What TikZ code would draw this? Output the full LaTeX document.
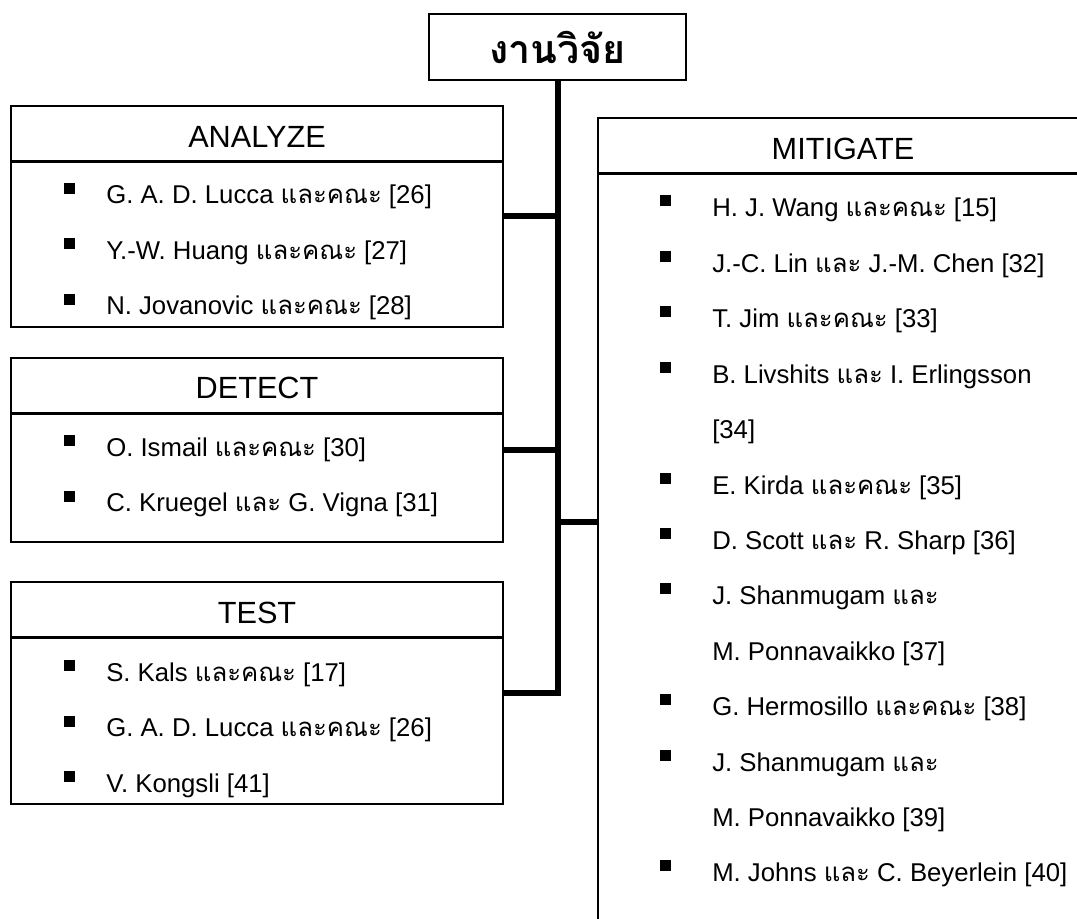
\documentclass[tikz,border=0pt]{standalone}
\usepackage{fontspec}
\setmainfont{Liberation Sans}
\newfontfamily\thaifont[Script=Thai]{Loma}
\usetikzlibrary{positioning}
\newcommand{\thaitxt}[1]{{\thaifont #1}}

\begin{document}
\begin{tikzpicture}[x=0.75pt,y=-0.75pt,
  box/.style={draw=black,line width=1.6pt,inner sep=0pt,outer sep=0pt,minimum width=369pt},
  rule/.style={black,line width=1.6pt},
  head/.style={font=\fontsize{23}{27}\selectfont,inner sep=0pt},
  item/.style={anchor=base west,font=\fontsize{19.3}{23}\selectfont,inner sep=0pt},
  bullet/.style={fill=black,minimum size=8.25pt,inner sep=0pt},
  link/.style={black,line width=4.5pt}]
\useasboundingbox (0,0) rectangle (1077,919);
\clip (0,0) rectangle (1077,919);
% root
\node[draw,line width=1.6pt,minimum width=192.75pt,minimum height=49.5pt,inner sep=0pt,font=\thaifont\bfseries\fontsize{29.5}{33}\selectfont] (title) at (557.5,47) {งานวิจัย};
% boxes
\node[box,minimum height=165.75pt] (ana) at (257,216.5) {};
\node[box,minimum height=138pt] (det) at (257,450) {};
\node[box,minimum height=166.5pt] (tst) at (257,693) {};
\node[box,minimum width=367.5pt,minimum height=631.5pt] (mit) at (843,539) {};
\draw[rule] ([yshift=-41.6pt]ana.north west) -- ([yshift=-41.6pt]ana.north east);
\draw[rule] ([yshift=-41.6pt]det.north west) -- ([yshift=-41.6pt]det.north east);
\draw[rule] ([yshift=-41.6pt]tst.north west) -- ([yshift=-41.6pt]tst.north east);
\draw[rule] ([yshift=-41.6pt]mit.north west) -- ([yshift=-41.6pt]mit.north east);
\node[head] (anahead) at (257,137) {ANALYZE};
\node[head] (dethead) at (257,388) {DETECT};
\node[head] (tsthead) at (257,613) {TEST};
\node[head] (mithead) at (843,149) {MITIGATE};
% connectors
\coordinate (mitin) at (598,522);
\draw[link] (ana.east) -- (ana.east -| title.south);
\draw[link] (det.east) -- (det.east -| title.south);
\draw[link] (title.south) -- (title.south |- tst.east) -- (tst.east);
\draw[link] (title.south |- mitin) -- (mit.west |- mitin);
% ANALYZE
\node[bullet] (anab1) at (69,188.5) {};
\node[item] (ana1) at (106,204) {G. A. D. Lucca \thaitxt{และคณะ} [26]};
\node[bullet] (anab2) at (69,244) {};
\node[item] (ana2) at (106,259.5) {Y.-W. Huang \thaitxt{และคณะ} [27]};
\node[bullet] (anab3) at (69,299.5) {};
\node[item] (ana3) at (106,315) {N. Jovanovic \thaitxt{และคณะ} [28]};
% DETECT
\node[bullet] (detb1) at (69,440.5) {};
\node[item] (det1) at (106,456) {O. Ismail \thaitxt{และคณะ} [30]};
\node[bullet] (detb2) at (69,496) {};
\node[item] (det2) at (106,511.5) {C. Kruegel \thaitxt{และ} G. Vigna [31]};
% TEST
\node[bullet] (tstb1) at (69,665.5) {};
\node[item] (tst1) at (106,681) {S. Kals \thaitxt{และคณะ} [17]};
\node[bullet] (tstb2) at (69,721) {};
\node[item] (tst2) at (106,736.5) {G. A. D. Lucca \thaitxt{และคณะ} [26]};
\node[bullet] (tstb3) at (69,776.5) {};
\node[item] (tst3) at (106,792) {V. Kongsli [41]};
% MITIGATE
\node[bullet] (mitb1) at (665,201) {};
\node[item] (mit1) at (712,217) {H. J. Wang \thaitxt{และคณะ} [15]};
\node[bullet] (mitb2) at (665,256.4) {};
\node[item] (mit2) at (712,272.4) {J.-C. Lin \thaitxt{และ} J.-M. Chen [32]};
\node[bullet] (mitb3) at (665,311.8) {};
\node[item] (mit3) at (712,327.8) {T. Jim \thaitxt{และคณะ} [33]};
\node[bullet] (mitb4) at (665,367.2) {};
\node[item] (mit4) at (712,383.2) {B. Livshits \thaitxt{และ} I. Erlingsson};
\node[item] (mit4b) at (712,438.6) {[34]};
\node[bullet] (mitb5) at (665,478) {};
\node[item] (mit5) at (712,494) {E. Kirda \thaitxt{และคณะ} [35]};
\node[bullet] (mitb6) at (665,533.4) {};
\node[item] (mit6) at (712,549.4) {D. Scott \thaitxt{และ} R. Sharp [36]};
\node[bullet] (mitb7) at (665,588.8) {};
\node[item] (mit7) at (712,604.8) {J. Shanmugam \thaitxt{และ}};
\node[item] (mit7b) at (712,660.2) {M. Ponnavaikko [37]};
\node[bullet] (mitb8) at (665,699.6) {};
\node[item] (mit8) at (712,715.6) {G. Hermosillo \thaitxt{และคณะ} [38]};
\node[bullet] (mitb9) at (665,755) {};
\node[item] (mit9) at (712,771) {J. Shanmugam \thaitxt{และ}};
\node[item] (mit9b) at (712,826.4) {M. Ponnavaikko [39]};
\node[bullet] (mitb10) at (665,865.8) {};
\node[item] (mit10) at (712,881.8) {M. Johns \thaitxt{และ} C. Beyerlein [40]};
\end{tikzpicture}
\end{document}
